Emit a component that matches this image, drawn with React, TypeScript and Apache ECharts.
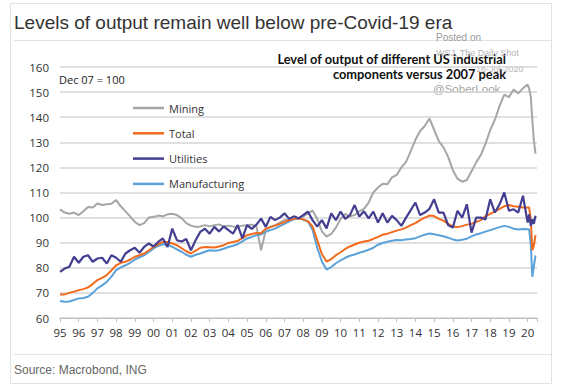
import React, { useEffect, useRef } from "react";
import * as echarts from "echarts";

// Quarterly observations 1995Q1..2020Q1, then monthly Feb..Jun 2020
const quarterDates = Array.from({ length: 101 }, (_, i) => 1995 + i * 0.25);
const covidMonthDates = [2020.08, 2020.17, 2020.25, 2020.33, 2020.42];
const dates = [...quarterDates, ...covidMonthDates];

const mining = [
  103.3, 102, 101.5, 102,
  101, 102.5, 104.2, 104,
  105.6, 105, 105.3, 105.5,
  107, 104.5, 102.5, 100.5,
  98.3, 97, 97.8, 100,
  100.3, 100.8, 100.5, 101.3,
  101.5, 101, 99.8, 97.8,
  96.8, 96.3, 96.5, 97,
  96.5, 97, 97.3, 96.5,
  96.8, 96.5, 96.3, 96.8,
  97, 97.2, 96.5, 87,
  95, 96.4, 97, 98,
  99, 99, 99.5, 99.7,
  100.5, 101.7, 102.8, 99.5,
  94.5, 92.4, 93.5, 96,
  99.5, 101.5, 100.5, 101,
  102.5, 103.5, 106, 110,
  112, 113.5, 113.3, 116,
  117, 120, 122.2, 126.5,
  131, 134.5, 136.5, 139.5,
  135, 130.5, 128, 124.2,
  118.9, 115.5, 114.3, 115,
  118.5, 122, 125, 129.5,
  134.9, 139, 144.5, 149,
  148, 151, 149.5, 151.5,
  153, 151.5, 148, 139, 131, 125.5,
];

const total = [
  69.4, 69.4, 70, 70.5,
  71.1, 71.5, 72.2, 73.5,
  75.1, 76, 77.1, 79,
  81, 82, 82.4, 83.3,
  84.4, 85, 85.7, 87,
  88.3, 89.3, 90.3, 90.3,
  89.7, 89, 87.8, 86.6,
  85.7, 86.8, 88, 88.3,
  88.2, 88.1, 88.5, 89,
  89.9, 90.3, 90.7, 91.8,
  93, 93.5, 93.9, 93.8,
  95.6, 96.2, 96.8, 97.5,
  98.2, 99, 99.5, 99.7,
  99.3, 98.6, 96.5, 91,
  85.5, 82.5, 83.5, 85,
  86.2, 87.5, 88.5, 89.3,
  90, 90.5, 90.8, 91.5,
  92.3, 93.2, 93.6, 94.2,
  94.8, 95.3, 96, 97,
  97.8, 99, 100, 100.8,
  100.6, 99.5, 98.8, 97.5,
  96.5, 96.2, 96.6, 97.2,
  97.5, 98.3, 99, 100.6,
  101.5, 102.5, 103.5, 104.5,
  105, 104.5, 104.3, 104,
  104, 104, 99, 87, 88.7, 93,
];

const utilities = [
  78.4, 79.7, 80.4, 84.4,
  82, 84.4, 85, 82.4,
  83.7, 84, 81.7, 85,
  84, 82.4, 85.7, 87,
  88, 86, 88.3, 89.7,
  88.5, 90.3, 91.7, 88.3,
  95.6, 91, 90.5, 91.5,
  87, 91, 94.3, 95.6,
  93.6, 96.3, 94.5, 96.5,
  95, 93.6, 97, 91.7,
  97, 95.5, 97.2, 99.6,
  96.3, 100.3, 99, 100,
  101.7, 99.5, 100.5, 99.7,
  101, 102.4, 99, 96.4,
  99, 95.7, 101.7, 99,
  102.4, 99.5, 101, 105,
  100.4, 102.5, 99.7, 102.4,
  98, 101.7, 98, 100.7,
  99, 96.7, 100, 103,
  106, 101, 102, 103.5,
  107.3, 102, 102, 97,
  96, 102.7, 100, 105.3,
  94, 100, 100, 99.3,
  107.3, 102, 105.3, 110,
  102.7, 103.3, 102, 108.7,
  98, 101.3, 96.7, 99.3, 97.5, 100.7,
];

const manufacturing = [
  66.8, 66.5, 66.6, 67.2,
  67.8, 68, 68.5, 70,
  71.8, 73, 74.4, 76.5,
  79.1, 80.2, 81, 82,
  83.3, 84.2, 85, 86.3,
  87.7, 88.7, 89.4, 89.2,
  88.3, 87.3, 86.4, 85.2,
  84.4, 85.2, 85.7, 86.4,
  87, 86.8, 87, 87.6,
  88.3, 88.8, 89.4, 90.5,
  91.7, 92.3, 93, 93.3,
  94.3, 95, 95.6, 96.6,
  97.5, 98.5, 99.3, 99.7,
  99.2, 98.4, 95.2, 88,
  82.5, 79.3, 80.3, 81.8,
  83, 84, 84.8, 85.3,
  86, 86.5, 87.2, 88,
  89.2, 89.9, 90.4, 90.8,
  91.1, 91, 91.3, 91.5,
  91.8, 92.5, 93.2, 93.7,
  93.4, 93, 92.6, 92,
  91.3, 90.9, 91.2, 91.6,
  92.5, 93.3, 93.8, 94.4,
  95, 95.6, 96.2, 96.7,
  96.3, 95.6, 95.3, 95.5,
  95.4, 95.3, 89, 76.4, 80.7, 84.9,
];

const seriesNames = ["Mining", "Total", "Utilities", "Manufacturing"];
const seriesColors = ["#a6a6a6", "#f26a1b", "#433e90", "#5aa2d9"];
const seriesValues = [mining, total, utilities, manufacturing];
const drawOrder = [0, 3, 1, 2];

const titleText = "Levels of output remain well below pre-Covid-19 era";
const subtitleLines = ["Level of output of different US industrial", "components versus 2007 peak"];
const baseNote = "Dec 07 = 100";
const sourceText = "Source: Macrobond, ING";

export default function App() {
  const ref = useRef<HTMLDivElement>(null);
  useEffect(() => {
    if (!ref.current) return;
    const chart = echarts.init(ref.current, null, { renderer: "svg" });
    const axisFont = "Open Sans";
    const option: any = {
      animation: false,
      backgroundColor: "#ffffff",
      grid: { left: 60, right: 24, top: 67, bottom: 71 },
      xAxis: {
        type: "value",
        min: 1995,
        max: 2020.5,
        interval: 1,
        axisLine: { lineStyle: { color: "#bdbdbd", width: 1 } },
        axisTick: { length: 4, lineStyle: { color: "#bdbdbd" } },
        axisLabel: {
          color: "#333",
          fontSize: 11.5,
          fontFamily: axisFont,
          margin: 8,
          formatter: (v: number) =>
            Number.isInteger(v) ? String(v % 100).padStart(2, "0") : "",
        },
        splitLine: { show: false },
      },
      yAxis: {
        type: "value",
        min: 60,
        max: 160,
        interval: 10,
        axisLine: { show: false },
        axisTick: { show: false },
        axisLabel: { color: "#333", fontSize: 11.5, fontFamily: axisFont, margin: 11 },
        splitLine: { lineStyle: { color: "#d6d6d6", width: 1.5 } },
      },
      legend: {
        data: seriesNames,
        orient: "vertical",
        left: 133,
        top: 101,
        padding: 0,
        icon: "rect",
        itemWidth: 31,
        itemHeight: 2.5,
        itemGap: 11.3,
        textStyle: { fontSize: 11, color: "#333", fontFamily: axisFont, lineHeight: 14 },
      },
      series: drawOrder.map((k) => ({
        name: seriesNames[k],
        type: "line",
        symbol: "none",
        data: dates.map((d, i) => [d, seriesValues[k][i]]),
        lineStyle: { color: seriesColors[k], width: k === 2 ? 2.2 : 2 },
        itemStyle: { color: seriesColors[k] },
      })),
      graphic: [
        {
          type: "rect",
          shape: { x: 10.5, y: 3.5, width: 541, height: 380 },
          style: { fill: "none", stroke: "#e2e2e2", lineWidth: 1 },
          silent: true,
        },
        {
          type: "line",
          shape: { x1: 14, y1: 40.5, x2: 551, y2: 40.5 },
          style: { stroke: "#e2e2e2", lineWidth: 1 },
        },
        {
          type: "line",
          shape: { x1: 14, y1: 354.5, x2: 551, y2: 354.5 },
          style: { stroke: "#e2e2e2", lineWidth: 1 },
        },
        {
          type: "text",
          x: 14,
          y: 22,
          style: {
            text: titleText,
            fontSize: 19,
            fontFamily: "Liberation Sans, Arial",
            fill: "#333",
            verticalAlign: "middle",
          },
        },
        {
          type: "text",
          x: 14,
          y: 370,
          style: {
            text: sourceText,
            fontSize: 12,
            fontFamily: "Liberation Sans, Arial",
            fill: "#666",
            verticalAlign: "middle",
          },
        },
        {
          type: "text",
          x: 59,
          y: 79,
          style: {
            text: baseNote,
            fontSize: 11,
            fontFamily: axisFont,
            fill: "#222",
            verticalAlign: "middle",
          },
        },
        {
          type: "text",
          x: 506,
          y: 59,
          style: {
            text: subtitleLines[0],
            fontSize: 12.8,
            fontWeight: "bold",
            fontFamily: "Lato",
            fill: "#111",
            align: "right",
            verticalAlign: "middle",
          },
        },
        {
          type: "text",
          x: 506,
          y: 74,
          style: {
            text: subtitleLines[1],
            fontSize: 12.8,
            fontWeight: "bold",
            fontFamily: "Lato",
            fill: "#111",
            align: "right",
            verticalAlign: "middle",
          },
        },
        {
          type: "text",
          x: 436,
          y: 37,
          style: { text: "Posted on", fontSize: 10, fontFamily: "Liberation Sans, Arial", fill: "#9a9a9a", verticalAlign: "middle" },
        },
        {
          type: "text",
          x: 436,
          y: 53,
          style: { text: "WSJ, The Daily Shot", fontSize: 9, fontFamily: "Liberation Sans, Arial", fill: "#b5b5b5", verticalAlign: "middle" },
        },
        {
          type: "text",
          x: 476,
          y: 69,
          style: { text: "16-Jul-2020", fontSize: 9, fontFamily: "Liberation Sans, Arial", fill: "#b5b5b5", verticalAlign: "middle" },
        },
        {
          type: "text",
          x: 433,
          y: 89,
          style: { text: "@SoberLook", fontSize: 11.5, fontFamily: "Liberation Sans, Arial", fill: "#a5a5a5", verticalAlign: "middle" },
        },
      ],
    };
    chart.setOption(option);
    return () => chart.dispose();
  }, []);
  return (
    <div
      ref={ref}
      style={{ position: "absolute", left: 0, top: 0, width: 561, height: 389, background: "#fff" }}
    />
  );
}
